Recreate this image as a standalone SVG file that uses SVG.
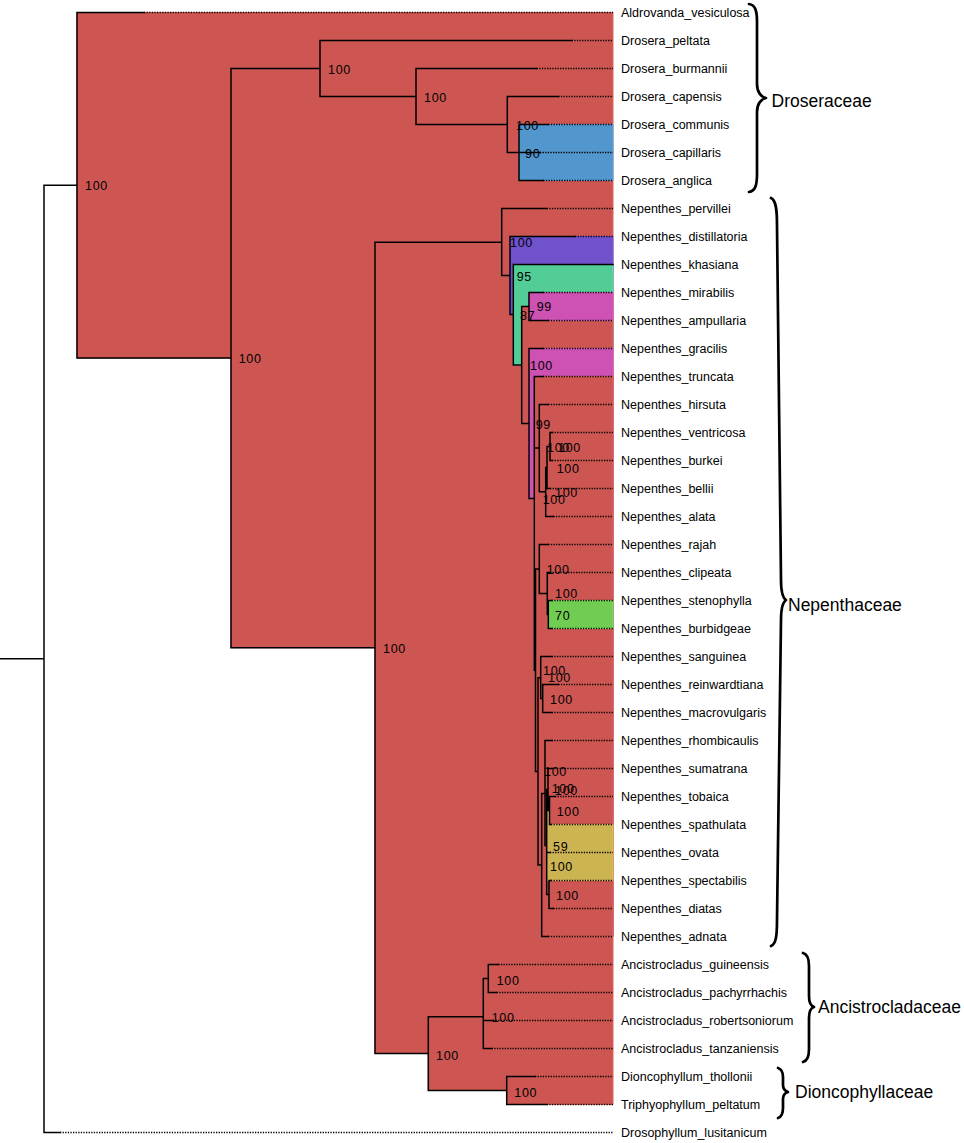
<svg xmlns="http://www.w3.org/2000/svg" width="964" height="1143" viewBox="0 0 964 1143">
<style>
.hl{stroke-width:1;stroke-linejoin:miter}
.red{fill:#CD5652;stroke:#E2605B}
.blue{fill:#5196CD;stroke:#5AA6E2}
.purple{fill:#7052CD;stroke:#7C5BE2}
.teal{fill:#52CD96;stroke:#5BE2A6}
.mag{fill:#CD52B4;stroke:#E25BC7}
.lgreen{fill:#70CD52;stroke:#7CE25B}
.yellow{fill:#CDB452;stroke:#E2C75B}
.br{fill:none;stroke:#000;stroke-width:1.5;stroke-linecap:square}
.dot{fill:none;stroke:#000;stroke-width:1.3;stroke-dasharray:1.3 1.3}
.tip{font-family:"Liberation Sans",Arial,sans-serif;font-size:12.5px;fill:#000}
.sup{font-family:"Liberation Sans",Arial,sans-serif;font-size:12.5px;fill:#000;letter-spacing:0.7px}
.fam{font-family:"Liberation Sans",Arial,sans-serif;font-size:17.5px;fill:#000}
.brace{fill:none;stroke:#000;stroke-width:2.7;stroke-linecap:round;stroke-linejoin:round}
</style>
<rect width="964" height="1143" fill="#fff"/>
<g id="highlights">
<polygon class="hl red" points="77,12.5 613,12.5 613,1104.5 506.7,1104.5 506.7,1090.5 428.3,1090.5 428.3,1053.5 375,1053.5 375,647.7 231,647.7 231,358 77,358"/>
<polygon class="hl blue" points="519,124.5 613,124.5 613,180.5 519,180.5"/>
<polygon class="hl purple" points="510,236.5 613,236.5 613,936.5 541.7,936.5 541.7,865 538,865 538,771.5 535.5,771.5 535.5,670.3 534.3,670.3 534.3,498.4 529,498.4 529,423.5 521.7,423.5 521.7,365 513.3,365 513.3,314.5 510,314.5"/>
<polygon class="hl teal" points="513.3,264.5 613,264.5 613,936.5 541.7,936.5 541.7,865 538,865 538,771.5 535.5,771.5 535.5,670.3 534.3,670.3 534.3,498.4 529,498.4 529,423.5 521.7,423.5 521.7,365 513.3,365"/>
<polygon class="hl red" points="521.7,306.5 529,306.5 529,292.5 613,292.5 613,936.5 541.7,936.5 541.7,865 538,865 538,771.5 535.5,771.5 535.5,670.3 534.3,670.3 534.3,498.4 529,498.4 529,423.5 521.7,423.5"/>
<polygon class="hl mag" points="529,292.5 613,292.5 613,320.5 529,320.5"/>
<polygon class="hl mag" points="529,348.5 613,348.5 613,936.5 541.7,936.5 541.7,865 538,865 538,771.5 535.5,771.5 535.5,670.3 534.3,670.3 534.3,498.4 529,498.4"/>
<polygon class="hl red" points="534.3,376.5 613,376.5 613,936.5 541.7,936.5 541.7,865 538,865 538,771.5 535.5,771.5 535.5,670.3 534.3,670.3"/>
<polygon class="hl lgreen" points="548.3,600.5 613,600.5 613,628.5 548.3,628.5"/>
<polygon class="hl yellow" points="546.7,808 549,808 549,824.5 613,824.5 613,880.5 546.7,880.5"/>
</g>
<g id="connectors">
<path class="dot" d="M144,12.5H613 M571.7,40.5H613 M536.7,68.5H613 M558.3,96.5H613 M548.3,124.5H613 M540,152.5H613 M543.3,180.5H613 M546.7,208.5H613 M575,236.5H613 M543.3,292.5H613 M548.3,320.5H613 M543.3,348.5H613 M543,376.5H613 M548.3,404.5H613 M552,432.5H613 M552,460.5H613 M550,488.5H613 M553.3,516.5H613 M548.3,544.5H613 M550,572.5H613 M551.7,600.5H613 M551.7,628.5H613 M551.7,656.5H613 M558.3,684.5H613 M551.7,712.5H613 M551.7,740.5H613 M551.7,768.5H613 M555,796.5H613 M551,824.5H613 M550,852.5H613 M551,880.5H613 M553.3,908.5H613 M548.3,936.5H613 M498.3,964.5H613 M496.7,992.5H613 M493,1020.5H613 M491.7,1048.5H613 M535,1076.5H613 M546.7,1104.5H613 M60,1132.5H613"/>
<path class="br" d="M0,658.8H44 M44,185.3V1132.5 M44,185.3H77 M44,1132.5H60
M77,12.5V358 M77,12.5H144 M77,358H231
M231,68.5V647.7 M231,68.5H320 M231,647.7H375
M320,40.5V96.5 M320,40.5H571.7 M320,96.5H416
M416,68.5V124.5 M416,68.5H536.7 M416,124.5H507.3
M507.3,96.5V152.5 M507.3,96.5H558.3 M507.3,152.5H519
M519,124.5V180.5 M519,124.5H548.3 M519,152.5H540 M519,180.5H543.3
M375,242.3V1053.5 M375,242.3H501.7 M375,1053.5H428.3
M428.3,1016.8V1090.5 M428.3,1016.8H483.3 M428.3,1090.5H506.7
M483.3,978.5V1048.5 M483.3,978.5H488.3 M483.3,1020.5H493 M483.3,1048.5H491.7
M488.3,964.5V992.5 M488.3,964.5H498.3 M488.3,992.5H496.7
M506.7,1076.5V1104.5 M506.7,1076.5H535 M506.7,1104.5H546.7
M501.7,208.5V275.5 M501.7,208.5H546.7 M501.7,275.5H510
M510,236.5V314.5 M510,236.5H575 M510,314.5H513.3
M513.3,264.5V365 M513.3,264.5H613 M513.3,365H521.7
M521.7,306.5V423.5 M521.7,306.5H529 M521.7,423.5H529
M529,292.5V320.5 M529,292.5H543.3 M529,320.5H548.3
M529,348.5V498.4 M529,348.5H543.3 M529,498.4H534.3
M534.3,376.5V670.3 M534.3,376.5H543 M534.3,448H539.3 M534.3,670.3H535.5
M539.3,404.5V491.7 M539.3,404.5H548.3 M539.3,491.7H545.7
M545.7,467.5V516.5 M545.7,467.5H547 M545.7,516.5H553.3
M547,446.5V488.5 M547,446.5H550 M547,488.5H550
M550,432.5V460.5 M550,432.5H552 M550,460.5H552
M535.5,569V771.5 M535.5,569H539.3 M535.5,771.5H538
M539.3,544.5V593.5 M539.3,544.5H548.3 M539.3,593.5H547.3
M547.3,572.5V614.5 M547.3,572.5H550 M547.3,614.5H548.3
M548.3,600.5V628.5 M548.3,600.5H551.7 M548.3,628.5H551.7
M538,677.8V865 M538,677.8H540.7 M538,865H541.7
M540.7,656.5V698.5 M540.7,656.5H551.7 M540.7,698.5H542.7
M542.7,684.5V712.5 M542.7,684.5H558.3 M542.7,712.5H551.7
M541.7,793.5V936.5 M541.7,793.5H545 M541.7,936.5H548.3
M545,740.5V845.5 M545,740.5H551.7 M545,845.5H546.7
M546.7,789.5V894.5 M546.7,789.5H548 M546.7,852.5H550 M546.7,894.5H549
M548,768.5V810.5 M548,768.5H551.7 M548,810.5H549.5
M549.5,796.5V824.5 M549.5,796.5H555 M549.5,824.5H551
M549,880.5V908.5 M549,880.5H551 M549,908.5H553.3"/>
</g>
<g id="support-values">
<text class="sup" x="85" y="189.8">100</text>
<text class="sup" x="238.7" y="363">100</text>
<text class="sup" x="328" y="73.5">100</text>
<text class="sup" x="424" y="101.5">100</text>
<text class="sup" x="516" y="129.5">100</text>
<text class="sup" x="525" y="157.5">90</text>
<text class="sup" x="383" y="652.5">100</text>
<text class="sup" x="436" y="1059.5">100</text>
<text class="sup" x="496.7" y="984.5">100</text>
<text class="sup" x="491.7" y="1021.5">100</text>
<text class="sup" x="514.3" y="1096.5">100</text>
<text class="sup" x="510" y="246.8">100</text>
<text class="sup" x="516.7" y="280.5">95</text>
<text class="sup" x="520" y="319.5">87</text>
<text class="sup" x="530" y="370.2">100</text>
<text class="sup" x="536.7" y="311.2">99</text>
<text class="sup" x="535.7" y="428.8">99</text>
<text class="sup" x="542.7" y="503.5">100</text>
<text class="sup" x="547" y="452">100</text>
<text class="sup" x="558" y="451.5">100</text>
<text class="sup" x="556.7" y="472.8">100</text>
<text class="sup" x="555" y="497.2">100</text>
<text class="sup" x="546.7" y="573.8">100</text>
<text class="sup" x="555" y="597.8">100</text>
<text class="sup" x="555" y="620.2">70</text>
<text class="sup" x="543" y="674.5">100</text>
<text class="sup" x="548" y="682.2">100</text>
<text class="sup" x="550" y="703.8">100</text>
<text class="sup" x="544" y="776.2">100</text>
<text class="sup" x="551.7" y="792.8">100</text>
<text class="sup" x="555" y="794.5">100</text>
<text class="sup" x="556.7" y="816.2">100</text>
<text class="sup" x="553" y="850.5">59</text>
<text class="sup" x="550" y="870.5">100</text>
<text class="sup" x="556" y="900.2">100</text>
</g>
<g id="taxa">
<g id="t00"><text class="tip" x="621" y="17">Aldrovanda_vesiculosa</text></g>
<g id="t01"><text class="tip" x="621" y="45">Drosera_peltata</text></g>
<g id="t02"><text class="tip" x="621" y="73">Drosera_burmannii</text></g>
<g id="t03"><text class="tip" x="621" y="101">Drosera_capensis</text></g>
<g id="t04"><text class="tip" x="621" y="129">Drosera_communis</text></g>
<g id="t05"><text class="tip" x="621" y="157">Drosera_capillaris</text></g>
<g id="t06"><text class="tip" x="621" y="185">Drosera_anglica</text></g>
<g id="t07"><text class="tip" x="621" y="213">Nepenthes_pervillei</text></g>
<g id="t08"><text class="tip" x="621" y="241">Nepenthes_distillatoria</text></g>
<g id="t09"><text class="tip" x="621" y="269">Nepenthes_khasiana</text></g>
<g id="t10"><text class="tip" x="621" y="297">Nepenthes_mirabilis</text></g>
<g id="t11"><text class="tip" x="621" y="325">Nepenthes_ampullaria</text></g>
<g id="t12"><text class="tip" x="621" y="353">Nepenthes_gracilis</text></g>
<g id="t13"><text class="tip" x="621" y="381">Nepenthes_truncata</text></g>
<g id="t14"><text class="tip" x="621" y="409">Nepenthes_hirsuta</text></g>
<g id="t15"><text class="tip" x="621" y="437">Nepenthes_ventricosa</text></g>
<g id="t16"><text class="tip" x="621" y="465">Nepenthes_burkei</text></g>
<g id="t17"><text class="tip" x="621" y="493">Nepenthes_bellii</text></g>
<g id="t18"><text class="tip" x="621" y="521">Nepenthes_alata</text></g>
<g id="t19"><text class="tip" x="621" y="549">Nepenthes_rajah</text></g>
<g id="t20"><text class="tip" x="621" y="577">Nepenthes_clipeata</text></g>
<g id="t21"><text class="tip" x="621" y="605">Nepenthes_stenophylla</text></g>
<g id="t22"><text class="tip" x="621" y="633">Nepenthes_burbidgeae</text></g>
<g id="t23"><text class="tip" x="621" y="661">Nepenthes_sanguinea</text></g>
<g id="t24"><text class="tip" x="621" y="689">Nepenthes_reinwardtiana</text></g>
<g id="t25"><text class="tip" x="621" y="717">Nepenthes_macrovulgaris</text></g>
<g id="t26"><text class="tip" x="621" y="745">Nepenthes_rhombicaulis</text></g>
<g id="t27"><text class="tip" x="621" y="773">Nepenthes_sumatrana</text></g>
<g id="t28"><text class="tip" x="621" y="801">Nepenthes_tobaica</text></g>
<g id="t29"><text class="tip" x="621" y="829">Nepenthes_spathulata</text></g>
<g id="t30"><text class="tip" x="621" y="857">Nepenthes_ovata</text></g>
<g id="t31"><text class="tip" x="621" y="885">Nepenthes_spectabilis</text></g>
<g id="t32"><text class="tip" x="621" y="913">Nepenthes_diatas</text></g>
<g id="t33"><text class="tip" x="621" y="941">Nepenthes_adnata</text></g>
<g id="t34"><text class="tip" x="621" y="969">Ancistrocladus_guineensis</text></g>
<g id="t35"><text class="tip" x="621" y="997">Ancistrocladus_pachyrrhachis</text></g>
<g id="t36"><text class="tip" x="621" y="1025">Ancistrocladus_robertsoniorum</text></g>
<g id="t37"><text class="tip" x="621" y="1053">Ancistrocladus_tanzaniensis</text></g>
<g id="t38"><text class="tip" x="621" y="1081">Dioncophyllum_thollonii</text></g>
<g id="t39"><text class="tip" x="621" y="1109">Triphyophyllum_peltatum</text></g>
<g id="t40"><text class="tip" x="621" y="1137">Drosophyllum_lusitanicum</text></g>
</g>
<g id="clade-droseraceae">
<path class="brace" d="M749,4 C755,5 757,10 757,22 L757,84 C757,92 761,97 766,98 C761,99 757,104 757,112 L757,174 C757,186 755,191 749,192"/>
<text class="fam" x="771.5" y="106.5">Droseraceae</text>
</g>
<g id="clade-nepenthaceae">
<path class="brace" d="M771,198 C776,200 777,210 777,225 L781,580 C781,592 783,598 786,600 C783,602 781,608 781,620 L777,920 C777,936 776,944 771,946"/>
<text class="fam" x="788" y="611">Nepenthaceae</text>
</g>
<g id="clade-ancistrocladaceae">
<path class="brace" d="M803,953 C807,954 809,958 809,966 L809,996 C809,1002 811,1006 814,1007 C811,1008 809,1012 809,1018 L809,1049 C809,1057 807,1061 803,1062"/>
<text class="fam" x="818" y="1013">Ancistrocladaceae</text>
</g>
<g id="clade-dioncophyllaceae">
<path class="brace" d="M778,1068 C781,1069 783,1072 783,1077 L783,1085 C783,1089 785,1091 788,1092 C785,1093 783,1095 783,1099 L783,1108 C783,1113 781,1117 778,1118"/>
<text class="fam" x="795" y="1098">Dioncophyllaceae</text>
</g>
</svg>
